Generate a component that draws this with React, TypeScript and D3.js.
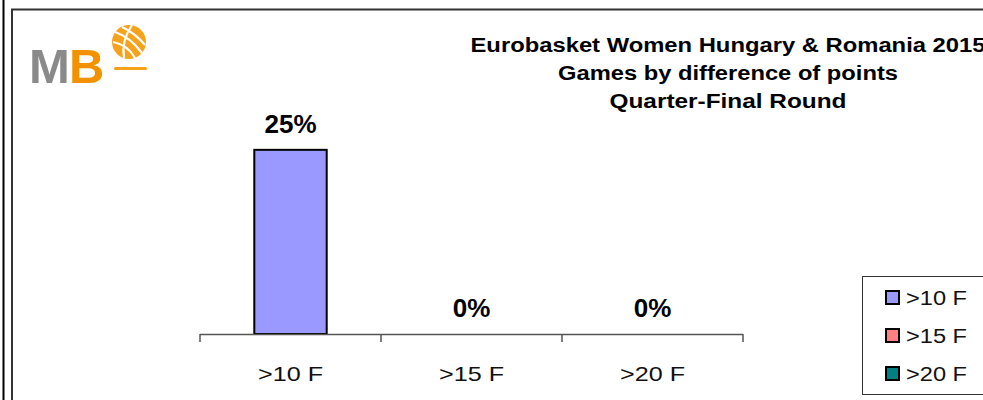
import React, { useEffect, useRef } from "react";
import * as d3 from "d3";

const categories = [">10 F", ">15 F", ">20 F"];
const values = [0.25, 0, 0];
const colors = ["#9999FF", "#FF8080", "#008080"];
const titleLines = [
  "Eurobasket Women Hungary & Romania 2015",
  "Games by difference of points",
  "Quarter-Final Round",
];

const W = 983;
const H = 400;

const App = () => {
  const svgRef = useRef<SVGSVGElement>(null);

  useEffect(() => {
    const svg = d3.select(svgRef.current);
    svg.selectAll("*").remove();
    svg.attr("width", W).attr("height", H);

    svg.append("rect").attr("width", W).attr("height", H).attr("fill", "#fff");

    // outer frames
    svg.append("line").attr("x1", 3.5).attr("x2", 3.5).attr("y1", 0).attr("y2", H)
      .attr("stroke", "#000").attr("stroke-width", 2);
    svg.append("path").attr("d", `M12,${H} L12,9.5 L${W},9.5`)
      .attr("fill", "none").attr("stroke", "#333").attr("stroke-width", 2);

    // logo
    const logo = svg.append("g").style("font-family", "Arial, 'Liberation Sans', sans-serif");
    logo.append("text").attr("x", 29).attr("y", 83).attr("fill", "#8a8a8a")
      .style("font-size", "49px").style("font-weight", "bold").text("M");
    logo.append("text").attr("x", 69).attr("y", 83).attr("fill", "#f39200")
      .style("font-size", "49px").style("font-weight", "bold").text("B");
    logo.append("circle").attr("cx", 129).attr("cy", 42).attr("r", 17).attr("fill", "#f7a21b");
    logo.append("path")
      .attr("d", "M115,32 Q130,37 142,53 M113,42 Q128,45 135,58 M122,27 Q135,33 145,45 M132,25 Q121,41 124,58")
      .attr("fill", "none").attr("stroke", "#fff").attr("stroke-width", 2.2);
    logo.append("rect").attr("x", 114).attr("y", 67).attr("width", 33).attr("height", 3)
      .attr("rx", 1.5).attr("fill", "#f7a21b");

    const font = "Arial, 'Liberation Sans', sans-serif";

    // title
    const titleWidths = [515, 340, 237];
    titleLines.forEach((t, i) => {
      svg.append("text")
        .attr("x", 728).attr("y", 52 + i * 28)
        .attr("text-anchor", "middle")
        .attr("textLength", titleWidths[i])
        .attr("lengthAdjust", "spacingAndGlyphs")
        .style("font-family", font).style("font-size", "20px").style("font-weight", "bold")
        .text(t);
    });

    // scales
    const x = d3.scaleBand().domain(categories).range([200, 743]).padding(0);
    const y = d3.scaleLinear().domain([0, 0.3]).range([334, 113]);
    const barW = x.bandwidth() * 0.4;

    // bars
    svg.selectAll(".bar").data(values).enter().append("rect")
      .attr("x", (d, i) => x(categories[i])! + (x.bandwidth() - barW) / 2)
      .attr("y", d => y(d))
      .attr("width", barW)
      .attr("height", d => y(0) - y(d))
      .attr("fill", (d, i) => colors[i])
      .attr("stroke", "#000").attr("stroke-width", 2)
      .style("display", d => (d > 0 ? null : "none"));

    // axis
    const edges = categories.map(c => x(c)!).concat([x(categories[categories.length - 1])! + x.bandwidth()]);
    svg.append("line").attr("x1", edges[0]).attr("x2", edges[edges.length - 1])
      .attr("y1", y(0) + 0.5).attr("y2", y(0) + 0.5).attr("stroke", "#555").attr("stroke-width", 1.5);
    edges.forEach(e => {
      svg.append("line").attr("x1", e).attr("x2", e).attr("y1", y(0)).attr("y2", y(0) + 8)
        .attr("stroke", "#555").attr("stroke-width", 1.5);
    });

    // value labels
    svg.selectAll(".val").data(values).enter().append("text")
      .attr("x", (d, i) => x(categories[i])! + x.bandwidth() / 2)
      .attr("y", d => y(d) - 17)
      .attr("text-anchor", "middle")
      .style("font-family", font).style("font-size", "26px").style("font-weight", "bold")
      .text(d => `${Math.round(d * 100)}%`);

    // category labels
    svg.selectAll(".cat").data(categories).enter().append("text")
      .attr("x", d => x(d)! + x.bandwidth() / 2)
      .attr("y", 381)
      .attr("text-anchor", "middle")
      .attr("textLength", 65).attr("lengthAdjust", "spacingAndGlyphs")
      .style("font-family", font).style("font-size", "21px").attr("fill", "#111")
      .text(d => d);

    // legend
    const legend = svg.append("g");
    legend.append("rect").attr("x", 862.5).attr("y", 276.5).attr("width", 140).attr("height", 118)
      .attr("fill", "#fff").attr("stroke", "#333").attr("stroke-width", 1);
    categories.forEach((c, i) => {
      const cy = 298 + i * 38;
      legend.append("rect").attr("x", 886).attr("y", cy - 7).attr("width", 13).attr("height", 13)
        .attr("fill", colors[i]).attr("stroke", "#000").attr("stroke-width", 2);
      legend.append("text").attr("x", 906).attr("y", cy + 7)
        .attr("textLength", 61).attr("lengthAdjust", "spacingAndGlyphs")
        .style("font-family", font).style("font-size", "20px").attr("fill", "#111")
        .text(c);
    });
  }, []);

  return <svg ref={svgRef} style={{ position: "absolute", left: 0, top: 0 }}></svg>;
};

export default App;
